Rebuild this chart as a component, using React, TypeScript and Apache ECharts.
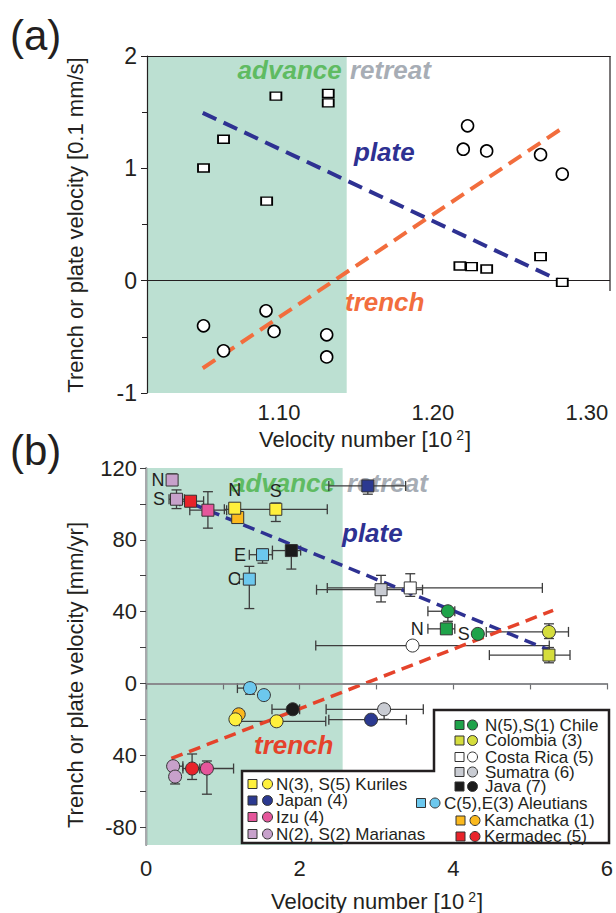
import { useEffect, useRef } from 'react';
import * as echarts from 'echarts';

const FONT = "'Liberation Sans', Arial, Helvetica, sans-serif";
const INK = '#231f20';

// ---------------- panel (a) ----------------
const aXMin = 1.0143;
const aXMax = 1.315;
const aAdvanceEdge = 1.144;
const aXLabels = [1.1, 1.2, 1.3];
const aSquares = [
  [1.051, 1.003], [1.064, 1.259], [1.092, 0.708], [1.098, 1.643], [1.132, 1.667], [1.132, 1.583],
  [1.2175, 0.131], [1.2251, 0.125], [1.2349, 0.104], [1.2699, 0.214], [1.284, -0.015],
];
const aCircles = [
  [1.2225, 1.378], [1.2197, 1.17], [1.2349, 1.155], [1.2699, 1.122], [1.284, 0.949],
  [1.051, -0.402], [1.064, -0.625], [1.0916, -0.268], [1.0968, -0.452], [1.131, -0.482], [1.131, -0.679],
];
const aPlateFit = [[1.0505, 1.494], [1.2814, 0.006]];
const aTrenchFit = [[1.0505, -0.78], [1.2836, 1.354]];

// ---------------- panel (b) ----------------
const bAdvanceEdge = 2.56;
const bXLabels = [0, 2, 4, 6];
const bYLabels = [-80, -40, 0, 40, 80, 120];
const bYTicks = [-80, -60, -40, -20, 0, 20, 40, 60, 80, 100, 120];
const bPlateFit = [[0.58, 100.4], [5.23, 18.9]];
const bTrenchFit = [[0.33, -41.8], [5.3, 40.7]];

// rows: x, y, xLow, xHigh, yLow, yHigh (null = no bar)
const chileSq = [[3.91, 30.4, 3.67, 4.02, null, null]];
const chileCi = [[3.93, 40.2, 3.67, 4.02, 34.6, null], [4.32, 27.6, null, null, null, null]];
const colombiaSq = [[5.246, 15.8, 4.47, 5.52, 11.5, 20]];
const colombiaCi = [[5.246, 28.7, 4.43, 5.5, 25, 33.2]];
const costaRicaSq = [[3.44, 53.2, 2.36, 5.16, 48.5, 61.1]];
const costaRicaCi = [[3.47, 21.1, 2.21, 5.25, null, null]];
const sumatraSq = [[3.06, 52.2, 2.22, 3.6, 45.4, 60.2]];
const sumatraCi = [[3.1, -14.4, 2.345, 3.61, -20, null]];
const javaSq = [[1.892, 74, 1.646, 2.013, 63.7, 77.2]];
const javaCi = [[1.91, -14.4, 1.64, 2.0, null, null]];
const aleutiansSq = [[1.517, 71.7, 1.345, 1.646, 67, 74.8], [1.345, 58.1, 1.216, 1.41, 41.7, 65.2]];
const aleutiansCi = [[1.354, -2.6, 1.19, null, -6, null], [1.535, -6.5, null, null, null, null]];
const kamchatkaSq = [[1.194, 92.4, null, null, null, null]];
const kamchatkaCi = [[1.207, -17.2, null, null, null, null]];
const kermadecSq = [[0.58, 101.5, 0.44, 0.75, 98.5, 104]];
const kermadecCi = [[0.6, -47.4, 0.48, 0.73, -53.5, -39.3]];
const kurilesSq = [[1.155, 97.6, null, null, null, null], [1.69, 97, 1.02, 2.36, 90.2, 100.5]];
const kurilesCi = [[1.164, -20, null, null, null, null], [1.7, -21.1, 1.215, 2.34, null, null]];
const japanSq = [[2.888, 110, 2.38, 3.38, 105.4, 112.4]];
const japanCi = [[2.93, -20.2, 2.38, 3.39, null, null]];
const izuSq = [[0.806, 96.5, 0.57, 1.05, 86.5, 106.8]];
const izuCi = [[0.793, -47.4, 0.7, 1.14, -61.7, -43.2]];
const marianasSq = [[0.34, 113.3, null, null, 110.5, 116.7], [0.397, 102.6, 0.3, 0.5, 97.4, 107.8]];
const marianasCi = [[0.353, -46.1, 0.3, 0.48, null, null], [0.379, -51.9, null, null, -56, null]];

// point tags: [text, position, distance]
const chileSqTags = [['N', 'left', 16]];
const chileCiTags = [null, ['S', 'left', 1]];
const aleutiansSqTags = [['E', 'left', 10], ['C', 'left', 2]];
const kurilesSqTags = [['N', 'top', 3], ['S', 'top', 3]];
const marianasSqTags = [['N', 'left', 1], ['S', 'left', 5]];

const groups = [
  { name: 'N(5),S(1) Chile', color: '#1fa34a', sq: chileSq, ci: chileCi, sqTags: chileSqTags, ciTags: chileCiTags },
  { name: 'Colombia (3)', color: '#d5dd3d', sq: colombiaSq, ci: colombiaCi },
  { name: 'Costa Rica (5)', color: '#ffffff', sq: costaRicaSq, ci: costaRicaCi },
  { name: 'Sumatra (6)', color: '#c9ccd3', sq: sumatraSq, ci: sumatraCi },
  { name: 'Java (7)', color: '#1b1b1b', sq: javaSq, ci: javaCi },
  { name: 'C(5),E(3) Aleutians', color: '#6cc8ee', sq: aleutiansSq, ci: aleutiansCi, sqTags: aleutiansSqTags },
  { name: 'Kamchatka (1)', color: '#fbb91e', sq: kamchatkaSq, ci: kamchatkaCi },
  { name: 'Kermadec (5)', color: '#e8232a', sq: kermadecSq, ci: kermadecCi },
  { name: 'N(3), S(5) Kuriles', color: '#fff03c', sq: kurilesSq, ci: kurilesCi, sqTags: kurilesSqTags },
  { name: 'Japan (4)', color: '#2b3990', sq: japanSq, ci: japanCi },
  { name: 'Izu (4)', color: '#e5569b', sq: izuSq, ci: izuCi },
  { name: 'N(2), S(2) Marianas', color: '#c7a1cb', sq: marianasSq, ci: marianasCi, sqTags: marianasSqTags },
];

// legend layout slots (pixel): square x, circle x, text x, row y — same order as groups
const legendSlots = [
  [459.5, 472.5, 485, 725], [459.5, 472.5, 485, 740.5], [459.5, 472.5, 485, 757], [459.5, 472.5, 485, 772],
  [459.5, 472.5, 485, 786.5], [421, 435, 444, 803], [460.5, 475, 484, 820.5], [460.5, 475, 484, 836.5],
  [252.5, 267.5, 276, 784], [252.5, 267.5, 276, 800.5], [252.5, 267.5, 276, 817], [252.5, 267.5, 276, 834],
];

const GREEN = '#bce0d2';
const ADV = '#5fbb62';
const RET = '#a7adb5';
const PLATE = '#2e3192';

const toBars = (rows: any[]) =>
  rows.map((r) => [r[0], r[1], r[2] ?? r[0], r[3] ?? r[0], r[4] ?? r[1], r[5] ?? r[1]]);

const renderBar = (_p: any, api: any) => {
  const x = api.value(0), y = api.value(1);
  const xl = api.value(2), xh = api.value(3), yl = api.value(4), yh = api.value(5);
  const c = api.coord([x, y]);
  const st = { stroke: '#3d3d3d', lineWidth: 1.3 };
  const cap = 5;
  const ch: any[] = [];
  const seg = (x1: number, y1: number, x2: number, y2: number) =>
    ch.push({ type: 'line', shape: { x1, y1, x2, y2 }, style: st });
  if (xl !== x || xh !== x) {
    const l = api.coord([xl, y])[0], r = api.coord([xh, y])[0];
    seg(l, c[1], r, c[1]);
    if (xl !== x) seg(l, c[1] - cap, l, c[1] + cap);
    if (xh !== x) seg(r, c[1] - cap, r, c[1] + cap);
  }
  if (yl !== y || yh !== y) {
    const b = api.coord([x, yl])[1], t = api.coord([x, yh])[1];
    seg(c[0], b, c[0], t);
    if (yl !== y) seg(c[0] - cap, b, c[0] + cap, b);
    if (yh !== y) seg(c[0] - cap, t, c[0] + cap, t);
  }
  return { type: 'group', children: ch };
};

const tagData = (rows: any[], tags?: any[]) =>
  rows.map((r, i) => {
    const t = tags && tags[i];
    if (!t) return { value: [r[0], r[1]] };
    return {
      value: [r[0], r[1]],
      label: { show: true, formatter: t[0], position: t[1], distance: t[2], fontSize: 18, color: INK, fontFamily: FONT },
    };
  });

export default function App() {
  const ref = useRef<HTMLDivElement>(null);
  useEffect(() => {
    const chart = echarts.init(ref.current!, undefined, { renderer: 'svg' });
    const txt = (text: string, x: number, y: number, extra: any = {}, style: any = {}) => ({
      type: 'text', x, y, z: 3, ...extra,
      style: { text, fill: INK, fontSize: 22, fontFamily: FONT, align: 'center', verticalAlign: 'middle', ...style },
    });
    const ann = (text: string, x: number, y: number, fill: string, align: string) =>
      txt(text, x, y, {}, { fill, fontSize: 26, fontStyle: 'italic', fontWeight: 'bold', align });

    const legendEls: any[] = [
      {
        type: 'polygon', z: 20,
        shape: { points: [[242, 771], [434, 771], [434, 710], [609, 710], [609, 843], [242, 843]] },
        style: { fill: '#fff', stroke: INK, lineWidth: 2.5 },
      },
    ];
    groups.forEach((g, i) => {
      const [sx, cx, tx, y] = legendSlots[i];
      legendEls.push({ type: 'rect', z: 21, shape: { x: sx - 4.5, y: y - 4.5, width: 9, height: 9 }, style: { fill: g.color, stroke: '#333', lineWidth: 1 } });
      legendEls.push({ type: 'circle', z: 21, shape: { cx, cy: y, r: 5 }, style: { fill: g.color, stroke: '#333', lineWidth: 1 } });
      legendEls.push({ type: 'text', z: 21, x: tx, y, style: { text: g.name, fill: INK, fontSize: 17, fontFamily: FONT, align: 'left', verticalAlign: 'middle' } });
    });

    const sup = { sup: { fontSize: 14, fontFamily: FONT, fill: INK, verticalAlign: 'top', padding: [0, 1, 0, 4] } };

    const bSeries: any[] = [];
    groups.forEach((g) => {
      bSeries.push({
        type: 'custom', xAxisIndex: 2, yAxisIndex: 1, z: 3, renderItem: renderBar,
        encode: { x: 0, y: 1 }, data: toBars([...g.sq, ...g.ci]), silent: true,
      });
    });
    groups.forEach((g: any) => {
      bSeries.push({
        type: 'scatter', name: g.name, xAxisIndex: 2, yAxisIndex: 1, z: 6, symbol: 'rect', symbolSize: 12,
        itemStyle: { color: g.color, borderColor: '#333', borderWidth: 1, opacity: 1 },
        data: tagData(g.sq, g.sqTags),
      });
      bSeries.push({
        type: 'scatter', name: g.name, xAxisIndex: 2, yAxisIndex: 1, z: 6, symbol: 'circle', symbolSize: 13,
        itemStyle: { color: g.color, borderColor: '#333', borderWidth: 1, opacity: 1 },
        data: tagData(g.ci, g.ciTags),
      });
    });

    const option: any = {
      animation: false,
      grid: [
        { left: 147, top: 56, width: 463, height: 337 },
        { left: 146, top: 468, width: 463, height: 377 },
      ],
      xAxis: [
        {
          gridIndex: 0, type: 'value', min: aXMin, max: aXMax, z: 2,
          axisLine: { show: false }, axisTick: { show: false }, splitLine: { show: false },
          axisLabel: { customValues: aXLabels, formatter: (v: number) => v.toFixed(2), fontSize: 22, color: INK, fontFamily: FONT, margin: 8 },
        },
        {
          gridIndex: 0, type: 'value', position: 'top', min: aXMin, max: aXMax, z: 2,
          axisLine: { show: true, lineStyle: { color: INK, width: 1.2 } },
          axisTick: { show: false }, axisLabel: { show: false }, splitLine: { show: false },
        },
        {
          gridIndex: 1, type: 'value', min: 0, max: 6, interval: 1, z: 2,
          axisLine: { show: true, lineStyle: { color: '#6d6e71', width: 1.5 } },
          axisTick: { show: true, length: 6, lineStyle: { color: '#6d6e71', width: 1.2 } },
          splitLine: { show: false },
          axisLabel: { customValues: bXLabels, fontSize: 22, color: INK, fontFamily: FONT, margin: 12 },
        },
        {
          gridIndex: 1, type: 'value', position: 'top', min: 0, max: 6, z: 2,
          axisLine: { show: true, lineStyle: { color: '#a7a9ac', width: 2 } },
          axisTick: { show: false }, axisLabel: { show: false }, splitLine: { show: false },
        },
      ],
      yAxis: [
        {
          gridIndex: 0, type: 'value', min: -1, max: 2, interval: 1, z: 2,
          axisLine: { show: true, lineStyle: { color: INK, width: 1.2 } },
          axisTick: { show: true, length: 6, lineStyle: { color: INK } },
          minorTick: { show: true, splitNumber: 2, length: 5, lineStyle: { color: INK } },
          splitLine: { show: false },
          axisLabel: { fontSize: 23, color: INK, fontFamily: FONT, margin: 10 },
        },
        {
          gridIndex: 1, type: 'value', min: -90, max: 120, z: 2,
          axisLine: { show: true, lineStyle: { color: '#414042', width: 1.3 } },
          axisTick: { show: true, customValues: bYTicks, length: 6, lineStyle: { color: '#414042' } },
          splitLine: { show: false },
          axisLabel: {
            customValues: bYLabels, fontSize: 22, color: INK, fontFamily: FONT, margin: 9,
            formatter: (v: number) => (v === -40 ? '40' : String(v)),
          },
        },
        {
          gridIndex: 1, type: 'value', position: 'right', min: -90, max: 120, z: 2,
          axisLine: { show: true, lineStyle: { color: '#a7a9ac', width: 2 } },
          axisTick: { show: false }, axisLabel: { show: false }, splitLine: { show: false },
        },
      ],
      series: [
        {
          type: 'scatter', xAxisIndex: 0, yAxisIndex: 0, data: [], z: 1, silent: true,
          markArea: { silent: true, itemStyle: { color: GREEN }, data: [[{ xAxis: aXMin }, { xAxis: aAdvanceEdge }]] },
          markLine: { silent: true, symbol: ['none', 'none'], label: { show: false }, lineStyle: { color: INK, width: 1, type: 'solid' }, data: [{ yAxis: 0 }] },
        },
        {
          type: 'line', xAxisIndex: 0, yAxisIndex: 0, data: aPlateFit, symbol: 'none', z: 4,
          lineStyle: { color: PLATE, width: 4, type: [15, 8] },
        },
        {
          type: 'line', xAxisIndex: 0, yAxisIndex: 0, data: aTrenchFit, symbol: 'none', z: 4,
          lineStyle: { color: '#f26d3d', width: 4, type: [15, 8] },
        },
        {
          type: 'scatter', xAxisIndex: 0, yAxisIndex: 0, data: aSquares, symbol: 'rect', symbolSize: [11, 8], z: 6,
          itemStyle: { color: '#fff', borderColor: '#000', borderWidth: 1.6, opacity: 1 },
        },
        {
          type: 'scatter', xAxisIndex: 0, yAxisIndex: 0, data: aCircles, symbol: 'circle', symbolSize: 12, z: 6,
          itemStyle: { color: '#fff', borderColor: '#000', borderWidth: 1.6, opacity: 1 },
        },
        {
          type: 'scatter', xAxisIndex: 2, yAxisIndex: 1, data: [], z: 1, silent: true,
          markArea: { silent: true, itemStyle: { color: GREEN }, data: [[{ xAxis: 0 }, { xAxis: bAdvanceEdge }]] },
          markLine: { silent: true, symbol: ['none', 'none'], label: { show: false }, lineStyle: { color: '#808285', width: 1.5, type: 'solid' }, data: [{ yAxis: 0 }] },
        },
        {
          type: 'line', xAxisIndex: 2, yAxisIndex: 1, data: bPlateFit, symbol: 'none', z: 4,
          lineStyle: { color: PLATE, width: 3.5, type: [12, 7] },
        },
        {
          type: 'line', xAxisIndex: 2, yAxisIndex: 1, data: bTrenchFit, symbol: 'none', z: 4,
          lineStyle: { color: '#e5432b', width: 3.5, type: [12, 7] },
        },
        ...bSeries,
      ],
      graphic: [
        txt('(a)', 10, 35, {}, { fontSize: 42, align: 'left' }),
        txt('(b)', 10, 450, {}, { fontSize: 42, align: 'left' }),
        txt('Trench or plate velocity [0.1 mm/s]', 75, 225, { rotation: Math.PI / 2 }),
        txt('Velocity number [10{sup|2}]', 365, 439, {}, { rich: sup }),
        txt('Trench or plate velocity [mm/yr]', 75, 675, { rotation: Math.PI / 2 }),
        txt('Velocity number [10{sup|2}]', 377, 901, {}, { rich: sup }),
        { type: 'line', z: 3, shape: { x1: 610, y1: 56, x2: 610, y2: 291 }, style: { stroke: INK, lineWidth: 1.2 } },
        ann('advance', 341.7, 70, ADV, 'right'),
        ann('retreat', 350, 70, RET, 'left'),
        ann('plate', 354, 152, PLATE, 'left'),
        ann('trench', 345, 302, '#f26d3d', 'left'),
        ann('advance', 335, 483, ADV, 'right'),
        ann('retreat', 347, 483, RET, 'left'),
        ann('plate', 342, 533, PLATE, 'left'),
        ann('trench', 254, 745, '#e5432b', 'left'),
        ...legendEls,
      ],
    };
    chart.setOption(option);
    return () => chart.dispose();
  }, []);
  return <div ref={ref} style={{ position: 'absolute', left: 0, top: 0, width: 616, height: 913, background: '#fff' }} />;
}
